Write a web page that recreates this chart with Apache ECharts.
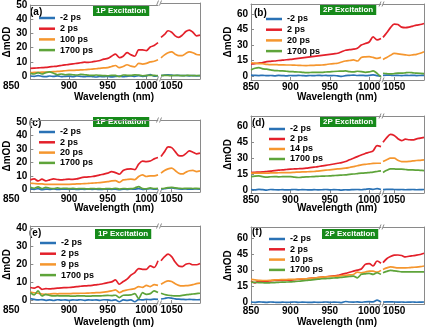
<!DOCTYPE html>
<html><head><meta charset="utf-8">
<script src="https://cdn.jsdelivr.net/npm/echarts@6/dist/echarts.min.js"></script>
<style>html,body{margin:0;padding:0;background:#fff}#c{width:425px;height:327px}</style>
</head><body><div id="c"></div>
<script>
// ---------- DATA ----------
const wlLeft = [850,855,860,865,870,875,880,885,890,895,900,905,910,915,920,925,930,935,940,945,950,955,960,965,970,975,980,985,990,995,1000,1005,1010,1015];
const wlRight = [1035,1040,1045,1050,1055,1060,1065,1070,1075,1080,1085,1090];
const xTicksLeft = [850,900,950,1000];
const xTicksRight = [1050];
const yTicksA = [0,10,20,30,40,50];
const yTicksB = [0,15,30,45,60];
const yTicksC = [0,10,20,30,40,50];
const yTicksD = [0,15,30,45,60];
const yTicksE = [0,10,20,30,40];
const yTicksF = [0,15,30,45,60];
const namesA = ['-2 ps','2 ps','100 ps','1700 ps'];
const namesB = ['-2 ps','2 ps','20 ps','1700 ps'];
const namesC = ['-2 ps','2 ps','20 ps','1700 ps'];
const namesD = ['-2 ps','2 ps','14 ps','1700 ps'];
const namesE = ['-2 ps','2 ps','9 ps','1700 ps'];
const namesF = ['-2 ps','2 ps','10 ps','1700 ps'];
const panelLabels = ['(a)','(b)','(c)','(d)','(e)','(f)'];
const excitation = ['1P Excitation','2P Excitation','1P Excitation','2P Excitation','1P Excitation','2P Excitation'];
const xTitle = 'Wavelength (nm)';
const yTitle = 'ΔmOD';

// panel (a)
const a_neg2 = [0.1,-0.2,0.4,-0.1,-0.3,0.1,-0.2,0.2,-0.4,-0.1,0.0,-0.3,0.1,-0.2,-0.4,-0.1,-0.3,-0.6,-0.2,-0.4,-0.1,-0.5,-0.2,0.0,-0.4,-0.1,0.1,-0.2,0.4,-0.1,0.2,1.1,0.0,0.4, 0.4,0.7,0.8,0.6,0.4,0.5,0.3,0.4,0.2,0.3,0.2,0.3];
const a_2 = [5.5,5.6,5.8,6.0,6.2,6.5,6.8,7.1,7.5,7.9,8.3,8.6,9.0,9.4,9.8,9.7,10.0,10.5,11.0,12.0,12.5,14.0,15.5,13.0,14.0,16.5,15.0,14.0,18.5,18.5,18.0,20.5,21.5,23.5, 26.5,28.5,31,30,27.5,26.5,28,30.5,31.5,30,27.5,28];
const a_100 = [2.5,2.6,2.7,2.8,2.8,3.0,3.2,3.3,3.5,3.8,4.0,4.1,4.2,4.4,4.5,4.7,5.0,5.2,5.5,5.8,6.0,6.8,7.5,6.0,6.8,8.0,7.0,6.5,9.0,8.5,9.0,10.0,10.5,11.5, 12.5,14.5,16,16.5,15,14,14,15.5,16.5,16,14.8,14.5];
const a_1700 = [2.0,1.5,2.5,1.5,2.5,3.0,2.0,1.0,1.5,1.0,1.2,1.0,0.8,1.2,1.0,0.7,0.5,0.8,0.5,0.4,0.3,0.6,0.5,-0.3,0.8,0.6,0.5,0.9,0.8,0.3,0.5,0.6,0.5,0.3, 0.3,0.5,0.4,0.3,0.5,0.4,0.3,0.4,0.5,0.3,0.4,0.3];
// panel (b)
const b_neg2 = [0.8,0.5,0.3,0.6,0.2,0.4,0.1,0.5,0.3,0.0,0.4,0.2,0.5,0.3,0.1,0.4,0.2,0.6,0.3,0.5,0.2,0.4,0.0,-0.5,0.3,0.5,0.8,0.4,0.6,0.3,0.5,1.0,0.3,-0.5, 0.5,0.8,0.6,0.4,0.5,0.3,0.5,0.4,0.6,0.3,0.4,0.5];
const b_2 = [11.6,12.0,12.5,13.0,13.9,14.2,14.5,15.0,15.3,15.7,16.0,16.5,17.0,17.5,18.0,18.5,19.0,19.5,20.0,20.5,21.0,21.5,22.0,23.5,25.0,25.5,26.0,27.0,30.0,31.5,33.0,38.0,35.0,36.5, 37.5,42,47,50.5,50,47.5,47,47.5,48.5,49.5,50,51];
const b_20 = [12.8,12.5,12.0,11.8,11.3,11.0,11.0,10.8,10.7,10.6,10.6,10.4,10.3,10.1,10.0,10.2,10.3,10.5,10.6,11.0,11.6,12.0,12.3,13.5,14.5,15.0,15.5,14.5,18.0,18.5,18.7,18.0,17.0,18.0, 16.0,18.0,20.0,22.0,21.5,21.0,20.5,20.0,20.5,21.0,22.0,23.5];
const b_1700 = [5.8,7.4,8.0,6.8,6.5,5.8,5.2,5.0,4.8,4.5,4.2,4.0,3.8,3.5,3.2,3.3,3.4,3.5,3.5,3.8,4.0,4.3,4.5,4.6,4.8,4.2,3.9,4.5,4.2,3.5,3.9,4.8,2.5,-1.0, 2.6,2.2,1.9,2.2,2.6,2.6,3.0,3.3,3.0,2.6,2.4,2.3];
// panel (c)
const c_neg2 = [0.3,0.0,0.5,-0.2,0.2,0.0,0.3,-0.1,0.1,0.2,0.0,0.2,-0.1,0.1,0.0,0.2,0.0,0.1,-0.1,0.1,0.2,0.0,0.1,-0.3,0.2,0.0,0.3,0.1,0.5,0.0,0.2,0.4,0.1,0.3, 0.2,0.4,0.8,1.0,0.6,0.3,0.2,0.3,0.1,0.2,0.3,0.2];
const c_2 = [7.0,7.7,6.2,7.5,6.2,7.0,7.7,7.3,7.0,7.3,7.5,7.4,7.7,8.5,9.0,9.2,9.5,10.0,10.7,11.3,12.0,13.2,12.4,11.2,14.0,15.0,15.2,14.6,18.7,21.0,20.6,21.0,22.6,23.6, 24.4,28.0,31.5,31.0,28.0,25.0,24.8,26.5,28.6,27.6,26.4,26.9];
const c_20 = [4.5,4.3,4.1,4.0,3.7,3.7,3.7,3.7,3.7,3.7,3.7,3.8,4.0,4.1,4.2,4.4,4.6,4.8,5.0,5.3,5.7,6.2,6.5,5.2,7.0,7.3,7.5,7.2,9.5,10.7,9.5,10.0,10.0,10.7, 12.0,14.0,15.2,15.7,14.0,12.0,11.4,12.7,13.8,14.0,13.2,13.7];
const c_1700 = [1.5,0.8,1.8,0.6,1.5,0.8,0.5,1.0,0.6,0.8,0.5,0.7,0.4,0.6,0.5,0.3,0.6,0.4,0.5,0.3,0.6,0.4,0.8,0.2,0.6,0.4,0.5,1.0,2.0,0.6,0.4,1.0,0.5,0.8, 0.6,0.8,1.2,1.5,1.0,0.8,0.6,0.7,0.8,0.6,0.7,0.6];
// panel (d)
const d_neg2 = [0.3,0.0,0.5,0.2,-0.2,0.3,0.1,0.0,0.2,-0.1,0.1,0.3,0.0,0.2,0.1,-0.1,0.2,0.0,0.1,0.3,0.0,0.2,0.1,-0.2,0.1,0.0,0.2,0.3,0.1,0.5,1.0,0.4,1.2,0.3, 0.2,0.4,0.5,0.3,0.2,0.3,0.1,0.2,0.3,0.1,0.2,0.3];
const d_2 = [16.4,16.6,16.8,17.0,17.4,17.8,18.3,18.6,19.0,19.3,19.6,19.8,20.0,20.2,20.5,21.0,21.5,22.0,22.7,23.2,23.8,24.5,25.2,25.8,26.8,28.5,30.0,31.5,33.0,34.5,35.6,37.0,42.0,41.0, 45.0,49.5,52.5,51.5,48.5,46.7,48.0,47.5,47.3,48.3,49.0,49.8];
const d_14 = [15.8,15.8,15.8,15.8,15.8,16.0,16.0,16.2,16.3,16.4,16.4,16.6,16.8,17.0,17.1,17.2,17.4,17.8,18.2,18.6,19.0,19.4,19.8,20.2,20.5,21.2,22.0,22.8,23.7,24.2,24.6,25.0,25.2,25.2, 26.8,28.5,30.0,30.0,28.0,26.8,26.8,27.0,27.4,27.8,28.0,28.4];
const d_1700 = [12.6,13.0,13.2,12.5,12.0,12.4,12.6,12.3,12.5,12.6,12.6,12.0,11.7,12.0,12.3,12.4,12.6,12.8,13.0,13.1,13.2,13.5,13.8,14.0,14.2,14.7,15.0,15.4,15.8,16.0,16.4,16.8,17.4,18.0, 16.5,18.5,19.9,19.8,19.6,19.6,19.3,19.0,18.9,18.7,18.5,18.3];
// panel (e)
const e_neg2 = [0.7,0.3,0.0,0.2,-0.2,0.0,-0.3,0.1,-0.1,0.0,-0.2,0.0,-0.1,0.1,-0.2,0.0,-0.1,0.0,-0.2,0.1,0.0,-0.3,0.0,-1.0,0.0,-0.2,0.0,-1.0,0.2,0.0,0.3,0.2,0.5,0.3, 0.5,0.8,1.2,1.0,0.6,0.4,0.3,0.2,0.3,0.2,0.1,0.2];
const e_2 = [6.9,6.5,7.4,5.9,6.3,6.1,6.3,6.5,6.7,6.8,6.9,7.1,7.4,7.6,7.8,7.9,8.1,8.4,8.7,9.1,9.6,10.0,11.1,8.7,10.2,11.5,13.7,15.2,17.4,17.0,17.0,18.9,18.0,21.7, 21.7,24.0,25.4,24.0,21.0,18.8,18.5,19.8,20.2,19.5,19.5,20.2];
const e_9 = [4.4,4.0,3.7,3.3,3.1,3.3,3.5,3.4,3.5,3.5,3.5,3.6,3.6,3.7,3.7,3.8,3.9,4.0,4.1,4.3,4.6,5.0,5.6,4.1,5.0,5.5,5.9,6.3,7.4,7.0,8.1,7.4,8.5,8.1, 8.7,9.8,10.6,10.2,9.0,8.1,7.8,7.9,8.1,8.5,9.0,9.3];
const e_1700 = [4.1,2.8,5.0,2.2,3.1,2.5,2.2,2.4,2.2,2.3,2.2,2.1,2.2,2.3,2.2,2.1,2.2,2.3,2.2,2.4,2.5,2.4,2.6,1.3,2.6,2.7,2.8,3.5,0.8,4.0,3.1,3.5,5.0,4.1, 3.7,3.0,2.6,2.4,2.2,2.2,2.5,2.8,3.1,3.3,3.5,3.7];
// panel (f)
const f_neg2 = [0.3,0.0,0.5,0.2,0.0,0.3,0.1,-0.1,0.2,0.0,0.1,0.3,0.0,0.2,0.1,-0.1,0.2,0.0,0.1,0.3,0.0,0.2,0.1,-0.2,0.8,0.3,0.2,0.4,0.1,0.5,0.6,0.4,2.0,0.3, 0.2,0.4,0.5,0.3,0.2,0.3,0.1,0.2,0.3,0.1,0.2,0.3];
const f_2 = [19.7,18.0,19.7,19.5,19.7,20.0,20.3,20.4,20.5,20.6,20.6,21.0,21.3,21.6,21.9,22.3,22.6,23.0,23.4,23.8,24.2,24.6,25.0,26.0,26.9,28.0,29.0,30.0,31.0,35.3,36.0,33.8,38.4,36.3, 36.9,40.5,42.5,43.8,44.0,43.5,42.2,42.8,43.3,43.8,44.5,45.6];
const f_10 = [21.3,20.8,20.5,20.3,20.3,20.5,20.8,21.0,21.1,21.2,21.3,21.4,21.6,21.8,21.9,22.2,22.6,23.0,23.4,23.7,24.0,24.2,24.4,24.8,25.2,25.5,25.9,28.0,27.5,28.2,29.0,29.0,28.0,29.7, 30.6,32.0,33.0,32.5,32.0,32.0,32.0,32.2,32.5,32.8,33.2,33.8];
const f_1700 = [18.7,18.5,18.3,18.2,18.0,18.2,18.4,18.6,18.8,18.9,19.0,19.3,19.6,20.0,20.3,20.7,21.1,21.5,21.9,22.1,22.3,22.6,22.8,23.2,23.6,24.0,24.4,22.8,26.0,26.5,26.9,26.0,27.5,26.0, 27.5,28.8,29.7,29.2,28.8,28.4,28.4,28.4,28.4,28.4,28.4,28.4];

// ---------- LAYOUT / STYLE ----------
const FONT = '"Liberation Sans", Arial, sans-serif';
const FRAME = '#8a8a8a';
const COLORS = ['#2a72b5', '#e3202a', '#f5962e', '#5ea43a'];
const BADGE = '#168a1a';
const panelData = [
  {series:[a_neg2,a_2,a_100,a_1700], names:namesA, yTicks:yTicksA},
  {series:[b_neg2,b_2,b_20,b_1700], names:namesB, yTicks:yTicksB},
  {series:[c_neg2,c_2,c_20,c_1700], names:namesC, yTicks:yTicksC},
  {series:[d_neg2,d_2,d_14,d_1700], names:namesD, yTicks:yTicksD},
  {series:[e_neg2,e_2,e_9,e_1700], names:namesE, yTicks:yTicksE},
  {series:[f_neg2,f_2,f_10,f_1700], names:namesF, yTicks:yTicksF}
];
const L = {x0:28,x1:158,x2:161,x3:200,cx:114};
const R = {x0:251,x1:381,x2:383,x3:424,cx:337};
const layout = [
  Object.assign({top:3, bot:79, ymin:-2, ymax:50, leg:[39,13.5,1.7], lab:[30,12], badge:[93,6], titleY:97, shift:true}, L),
  Object.assign({top:4, bot:80, ymin:-4, ymax:70, leg:[266,14.5,1.7], lab:[254,13.5], badge:[320,5], titleY:97, shift:false}, R),
  Object.assign({top:120, bot:192, ymin:-2, ymax:51.5, leg:[39,127.5,1.3], lab:[29,123], badge:[93,117], titleY:208, shift:true}, L),
  Object.assign({top:116, bot:193, ymin:-3, ymax:70, leg:[269,124.5,1.0], lab:[252,123], badge:[320,117], titleY:208, shift:false}, R),
  Object.assign({top:226, bot:303, ymin:-1.7, ymax:41, leg:[40,238.5,1.7], lab:[29,233], badge:[95,229], titleY:322, shift:true}, L),
  Object.assign({top:227, bot:304.5, ymin:-2, ymax:70, leg:[269,234.5,1.3], lab:[252,232], badge:[322,229], titleY:322, shift:false}, R)
];

const grid=[], xAxis=[], yAxis=[], series=[], legend=[], graphic=[];
const lblStyle = {fontSize:10, fontWeight:'bold', fontFamily:FONT, color:'#000'};

panelData.forEach((pd, pi) => {
  const p = layout[pi];
  [0,1].forEach(s => {
    const gi = grid.length;
    const left = s ? p.x2 : p.x0, right = s ? p.x3 : p.x1;
    grid.push({left:left, top:p.top, width:right-left, height:p.bot-p.top});
    const xr = s ? [wlRight[0], wlRight[wlRight.length-1]] : [wlLeft[0], wlLeft[wlLeft.length-1]];
    const ticks = s ? xTicksRight : xTicksLeft;
    const xl = Object.assign({customValues:ticks, margin:2, formatter: v => String(v)}, lblStyle);
    if (!s && p.shift) {
      xl.formatter = v => (v === xTicksLeft[0] ? '{m|' + v + '}' : String(v));
      xl.rich = {m: {padding:[0,38,0,0], fontSize:10, fontWeight:'bold', fontFamily:FONT, color:'#000'}};
    }
    xAxis.push({type:'value', gridIndex:gi, min:xr[0], max:xr[1], position:'bottom',
      axisLine:{show:true, onZero:false, lineStyle:{color:FRAME, width:1}},
      axisTick:{show:true, inside:true, length:3, customValues:ticks, lineStyle:{color:FRAME}},
      axisLabel:xl, splitLine:{show:false}});
    xAxis.push({type:'value', gridIndex:gi, min:xr[0], max:xr[1], position:'top',
      axisLine:{show:true, onZero:false, lineStyle:{color:FRAME, width:1}},
      axisTick:{show:false}, axisLabel:{show:false}, splitLine:{show:false}});
    const ya = {type:'value', gridIndex:gi, min:p.ymin, max:p.ymax, position: s ? 'right' : 'left',
      axisLine:{show:true, onZero:false, lineStyle:{color:FRAME, width:1}},
      splitLine:{show:false}};
    if (s) { ya.axisTick = {show:false}; ya.axisLabel = {show:false}; }
    else {
      ya.axisTick = {show:true, inside:true, length:3, customValues:pd.yTicks, lineStyle:{color:FRAME}};
      ya.axisLabel = Object.assign({customValues:pd.yTicks, margin:3, formatter: v => String(v)}, lblStyle);
      ya.name = yTitle; ya.nameLocation = 'middle'; ya.nameGap = 18; ya.nameRotate = 90;
      ya.nameTextStyle = {fontSize:10, fontWeight:'bold', fontFamily:FONT, color:'#000'};
    }
    yAxis.push(ya);
    const wl = s ? wlRight : wlLeft;
    const off = s ? wlLeft.length : 0;
    pd.series.forEach((arr, k) => {
      series.push({type:'line', name:pd.names[k], xAxisIndex:2*gi, yAxisIndex:gi,
        data: wl.map((w, i) => [w, arr[off+i]]), symbol:'none', showSymbol:false,
        smooth:0.3, lineStyle:{width:1.7, color:COLORS[k]}, itemStyle:{color:COLORS[k]},
        z: 2 + k, silent:true, animation:false});
    });
  });
  legend.push({orient:'vertical', left:p.leg[0], top:p.leg[1], itemGap:p.leg[2], padding:0,
    itemWidth:16, itemHeight:2.5, icon:'rect', selectedMode:false, data:pd.names,
    textStyle:{fontSize:9, fontWeight:'bold', fontFamily:FONT, color:'#000', lineHeight:9}});
  graphic.push({type:'text', x:p.lab[0], y:p.lab[1], style:{text:panelLabels[pi], font:'bold 10px ' + FONT, fill:'#000', verticalAlign:'middle'}});
  graphic.push({type:'text', x:p.badge[0], y:p.badge[1], style:{text:excitation[pi], font:'bold 8px ' + FONT, fill:'#fff', backgroundColor:BADGE, padding:[1,3,1,3], lineHeight:8, verticalAlign:'top'}});
  graphic.push({type:'text', x:p.cx, y:p.titleY, style:{text:xTitle, font:'bold 10px ' + FONT, fill:'#000', align:'center', verticalAlign:'middle'}});
  const bx = (p.x1 + p.x2) / 2;
  [p.top, p.bot].forEach(yy => {
    graphic.push({type:'rect', shape:{x:p.x1+0.5, y:yy-2, width:p.x2-p.x1-1, height:4}, style:{fill:'#fff'}, z:10});
    graphic.push({type:'line', shape:{x1:bx-3, y1:yy+2.5, x2:bx-1, y2:yy-2.5}, style:{stroke:FRAME, lineWidth:1}, z:11});
    graphic.push({type:'line', shape:{x1:bx, y1:yy+2.5, x2:bx+2, y2:yy-2.5}, style:{stroke:FRAME, lineWidth:1}, z:11});
  });
});

const chart = echarts.init(document.getElementById('c'), null, {renderer:'canvas'});
chart.setOption({animation:false, backgroundColor:'#fff', grid, xAxis, yAxis, series, legend, graphic});
</script></body></html>
